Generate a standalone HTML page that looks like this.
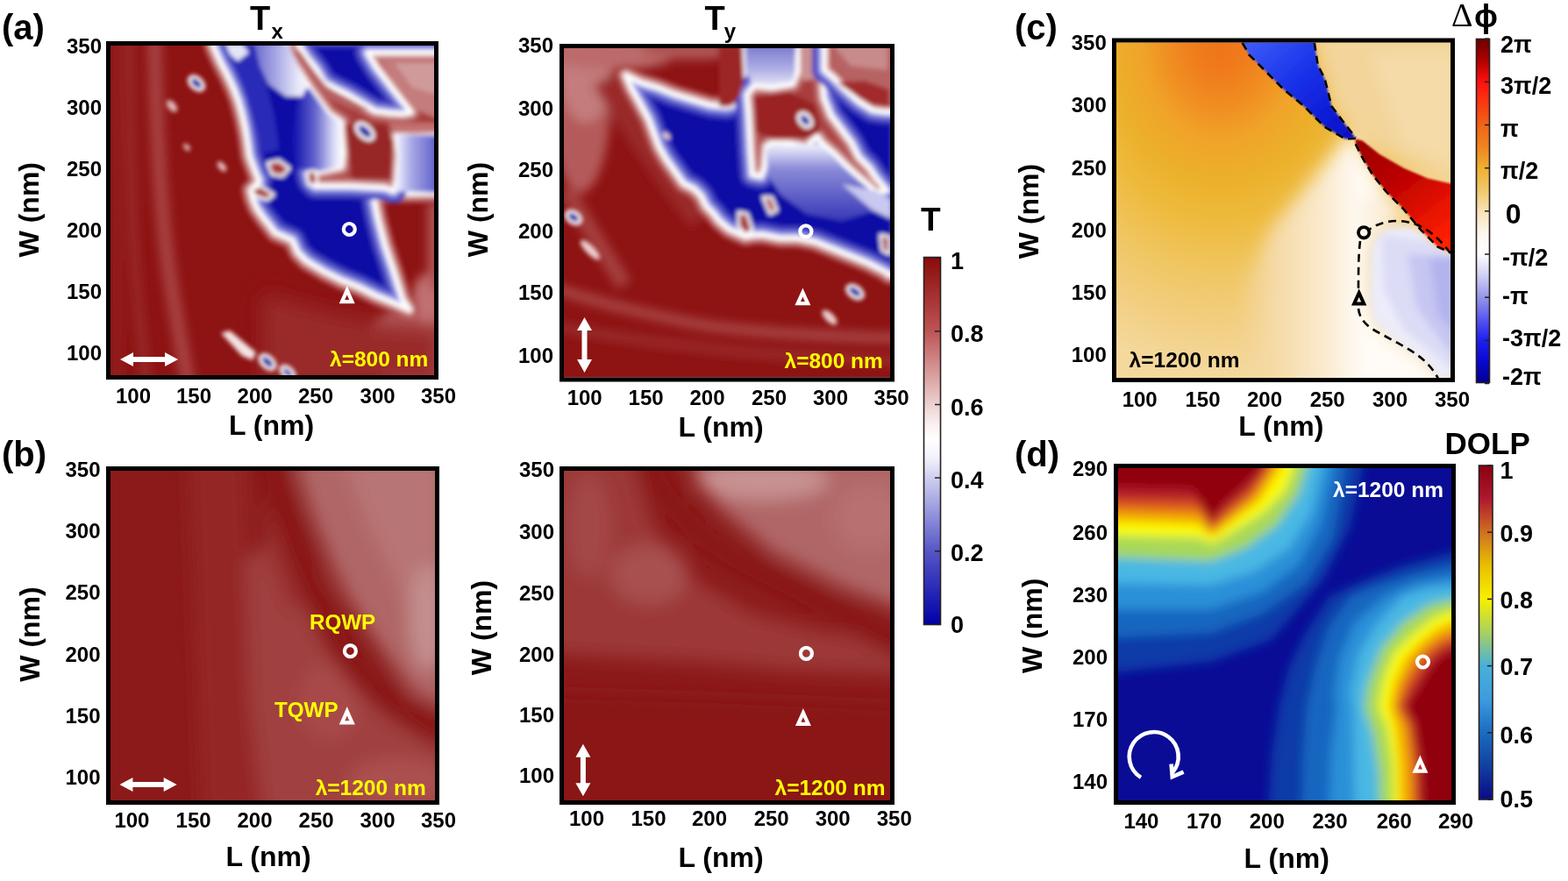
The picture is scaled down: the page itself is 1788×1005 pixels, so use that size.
<!DOCTYPE html>
<html><head><meta charset="utf-8"><title>Figure</title>
<style>html,body{margin:0;padding:0;background:#fff;overflow:hidden}svg{display:block}</style>
</head><body>
<svg width="1788" height="1005" viewBox="0 0 1788 1005" font-family='"Liberation Sans", sans-serif'>
<defs><clipPath id="clip_tx"><rect x="126" y="52" width="369" height="376"/></clipPath><clipPath id="clip_ty"><rect x="643" y="55" width="372" height="375.5"/></clipPath><clipPath id="clip_bl"><rect x="126" y="537" width="370" height="376"/></clipPath><clipPath id="clip_br"><rect x="643" y="537" width="372" height="376"/></clipPath><clipPath id="clip_c"><rect x="1273" y="48.5" width="381" height="382.5"/></clipPath><clipPath id="clip_d"><rect x="1275" y="534" width="380" height="379"/></clipPath><filter id="b1" x="-5%" y="-5%" width="110%" height="110%"><feGaussianBlur stdDeviation="1.3"/></filter><filter id="b2" x="-5%" y="-5%" width="110%" height="110%"><feGaussianBlur stdDeviation="2.4"/></filter><filter id="b4" x="-10%" y="-10%" width="120%" height="120%"><feGaussianBlur stdDeviation="4"/></filter><filter id="b6" x="-10%" y="-10%" width="120%" height="120%"><feGaussianBlur stdDeviation="6"/></filter><filter id="b14" x="-30%" y="-30%" width="160%" height="160%"><feGaussianBlur stdDeviation="14"/></filter><filter id="b10" x="-20%" y="-20%" width="140%" height="140%"><feGaussianBlur stdDeviation="10"/></filter><linearGradient id="gT" x1="0" y1="0" x2="0" y2="1">
<stop offset="0" stop-color="#8a0a0a"/><stop offset="0.2" stop-color="#bd5454"/>
<stop offset="0.4" stop-color="#ecd0d0"/><stop offset="0.46" stop-color="#fbf3f3"/><stop offset="0.5" stop-color="#ffffff"/>
<stop offset="0.55" stop-color="#f0f0fb"/><stop offset="0.6" stop-color="#cfcff0"/><stop offset="0.8" stop-color="#5656c6"/>
<stop offset="1" stop-color="#0000a8"/></linearGradient><linearGradient id="gC" x1="0" y1="0" x2="0" y2="1">
<stop offset="0" stop-color="#6a0000"/><stop offset="0.0625" stop-color="#b00000"/>
<stop offset="0.125" stop-color="#ff1010"/><stop offset="0.1875" stop-color="#f83a10"/>
<stop offset="0.25" stop-color="#f06418"/><stop offset="0.3125" stop-color="#f08420"/>
<stop offset="0.375" stop-color="#efb030"/><stop offset="0.4375" stop-color="#f0c868"/>
<stop offset="0.5" stop-color="#f8e2b4"/><stop offset="0.5625" stop-color="#fdf6ec"/>
<stop offset="0.625" stop-color="#ffffff"/><stop offset="0.6875" stop-color="#d0d0f4"/>
<stop offset="0.75" stop-color="#9898e8"/><stop offset="0.8125" stop-color="#5a5af0"/>
<stop offset="0.875" stop-color="#2020f0"/><stop offset="0.9375" stop-color="#0808d0"/>
<stop offset="1" stop-color="#000090"/></linearGradient><linearGradient id="gD" x1="0" y1="0" x2="0" y2="1">
<stop offset="0" stop-color="#8a0010"/><stop offset="0.1" stop-color="#b01830"/>
<stop offset="0.2" stop-color="#d07020"/><stop offset="0.3" stop-color="#e8c000"/>
<stop offset="0.4" stop-color="#f8f000"/><stop offset="0.5" stop-color="#a8d060"/>
<stop offset="0.6" stop-color="#48b0d8"/><stop offset="0.7" stop-color="#3c9ce0"/>
<stop offset="0.8" stop-color="#1a6cc0"/><stop offset="0.9" stop-color="#1040a0"/>
<stop offset="1" stop-color="#0a0a88"/></linearGradient><radialGradient id="gCbg" gradientUnits="userSpaceOnUse" cx="0" cy="0" r="1" gradientTransform="translate(1392 48) scale(300 375)">
<stop offset="0" stop-color="#ef7418"/><stop offset="0.1" stop-color="#f07c1c"/><stop offset="0.2" stop-color="#f08e22"/>
<stop offset="0.3" stop-color="#f0a428"/><stop offset="0.42" stop-color="#ecb02a"/><stop offset="0.55" stop-color="#eebb3e"/>
<stop offset="0.7" stop-color="#f0c662"/><stop offset="0.85" stop-color="#f2ce80"/><stop offset="1" stop-color="#f4d89c"/></radialGradient><linearGradient id="gCblue" gradientUnits="userSpaceOnUse" x1="1430" y1="45" x2="1530" y2="160">
<stop offset="0" stop-color="#3a5af8"/><stop offset="0.45" stop-color="#1830e8"/><stop offset="1" stop-color="#0810c8"/></linearGradient>
<linearGradient id="gCred" gradientUnits="userSpaceOnUse" x1="1555" y1="165" x2="1640" y2="280">
<stop offset="0" stop-color="#a00000"/><stop offset="0.35" stop-color="#b80000"/><stop offset="0.7" stop-color="#e01000"/><stop offset="1" stop-color="#ff2000"/></linearGradient><linearGradient id="gTxw" gradientUnits="userSpaceOnUse" x1="336" y1="0" x2="391" y2="0"><stop offset="0" stop-color="#1414b0"/><stop offset="0.45" stop-color="#6a6ad0"/><stop offset="0.8" stop-color="#d8d8f6"/><stop offset="1" stop-color="#ffffff"/></linearGradient><linearGradient id="gTxp" gradientUnits="userSpaceOnUse" x1="290" y1="0" x2="342" y2="0"><stop offset="0" stop-color="#6a6ad0"/><stop offset="0.45" stop-color="#a4a4e4"/><stop offset="1" stop-color="#ececfa"/></linearGradient><linearGradient id="gTxr" gradientUnits="userSpaceOnUse" x1="452" y1="0" x2="500" y2="0"><stop offset="0" stop-color="#f0f0ff"/><stop offset="0.35" stop-color="#a8a8e6"/><stop offset="1" stop-color="#5a5ac8"/></linearGradient><clipPath id="rc1"><path d="M243.0,40.0 L243.0,52.0 L251.0,70.0 L259.8,86.8 L266.0,100.0 L271.7,114.7 L276.0,130.0 L279.7,146.5 L282.0,160.0 L284.5,178.0 L288.9,189.9 L292.8,199.9 L295.8,205.8 L290.0,213.0 L286.0,217.0 L288.0,226.0 L292.8,237.7 L299.8,247.6 L307.8,257.6 L313.7,265.5 L322.0,269.0 L333.4,274.0 L339.4,287.7 L349.4,297.7 L369.3,309.6 L389.2,319.6 L409.0,327.5 L429.0,337.5 L448.9,345.4 L466.8,353.4 L458.8,341.4 L448.9,309.6 L438.9,279.8 L431.0,249.9 L427.0,230.0 L433.0,221.0 L510.0,220.0 L510.0,40.0 Z"/></clipPath><clipPath id="rc2"><path d="M326.0,40.0 L341.0,40.0 L341.0,52.0 L350.0,66.0 L360.5,78.8 L370.0,94.8 L382.0,101.0 L395.5,107.5 L411.5,117.0 L427.4,126.6 L445.0,129.0 L460.0,129.8 L468.8,128.0 L448.9,102.7 L429.0,76.9 L419.0,60.0 L510.0,60.0 L510.0,154.0 L470.0,156.0 L452.0,155.0 L455.0,176.4 L452.8,206.2 L449.0,218.0 L438.9,214.2 L399.1,212.2 L359.3,212.2 L353.3,206.2 L351.3,198.2 L371.2,194.3 L389.2,190.3 L391.1,174.4 L389.2,150.5 L389.0,139.4 L374.8,129.8 L363.0,114.0 L352.5,99.5 L340.0,80.0 L328.7,63.0 L327.0,52.0 Z"/></clipPath><linearGradient id="gTyp" gradientUnits="userSpaceOnUse" x1="0" y1="168" x2="0" y2="250"><stop offset="0" stop-color="#e8e8fa"/><stop offset="0.3" stop-color="#8a8ad8"/><stop offset="1" stop-color="#3a3ab8"/></linearGradient><linearGradient id="gTyt" gradientUnits="userSpaceOnUse" x1="0" y1="52" x2="0" y2="98"><stop offset="0" stop-color="#7a7acc"/><stop offset="0.6" stop-color="#b0b0e6"/><stop offset="1" stop-color="#e6e6f8"/></linearGradient><clipPath id="rc3"><path d="M713.6,85.8 L729.6,93.8 L749.5,99.8 L769.4,107.7 L789.3,113.7 L809.2,119.7 L829.0,121.7 L836.0,119.7 L844.0,108.0 L848.0,92.0 L846.0,40.0 L1030.0,40.0 L1030.0,314.0 L1014.0,313.6 L1009.0,309.6 L989.2,299.7 L969.3,291.7 L949.4,283.7 L929.5,275.8 L909.6,271.8 L889.7,271.8 L869.8,267.8 L860.0,268.0 L849.9,269.8 L831.9,261.8 L820.0,251.9 L813.1,243.0 L805.2,235.1 L799.2,223.1 L791.2,215.2 L779.3,209.2 L769.4,195.3 L759.4,181.4 L751.4,167.4 L745.5,151.5 L739.5,135.6 L729.6,117.7 L719.6,99.8 Z"/></clipPath><clipPath id="rc4"><path d="M909.6,40.0 L937.4,40.0 L937.4,81.9 L939.4,111.7 L947.4,131.6 L959.3,147.5 L971.2,163.4 L979.2,179.4 L991.1,191.3 L999.1,203.2 L1011.0,217.2 L999.1,219.2 L985.2,207.2 L967.3,191.3 L951.3,175.4 L937.4,163.4 L931.4,155.5 L919.5,167.4 L899.6,163.4 L879.7,163.4 L873.7,167.4 L871.7,191.3 L867.8,201.3 L857.8,199.3 L855.8,171.4 L853.8,131.6 L851.8,107.7 L859.8,97.8 L879.7,99.8 L903.6,95.8 L909.6,81.9 Z"/></clipPath><clipPath id="rc5"><path d="M940.0,40.0 L1030.0,40.0 L1030.0,128.0 L1009.0,127.6 L995.1,125.6 L979.2,115.7 L963.3,101.8 L949.4,87.8 L940.0,80.0 Z"/></clipPath><linearGradient id="gCw" gradientUnits="userSpaceOnUse" x1="1405" y1="0" x2="1552" y2="0"><stop offset="0" stop-color="#f3d494" stop-opacity="0"/><stop offset="0.3" stop-color="#f5d9a4"/><stop offset="0.65" stop-color="#f9e7c6"/><stop offset="0.88" stop-color="#fdf4e6"/><stop offset="1" stop-color="#fffbf6"/></linearGradient></defs>
<rect width="1788" height="1005" fill="#fff"/>
<g clip-path="url(#clip_tx)"><rect x="106" y="32" width="409" height="416" fill="#8e1313"/><g filter="url(#b6)"><path d="M176,30 C178,150 184,260 196,330 C203,375 210,410 216,445" fill="none" stroke="#a84242" stroke-width="16"/><path d="M147,30 C148,150 150,260 156,330 C160,380 164,410 168,445" fill="none" stroke="#9a2c2c" stroke-width="10"/><path d="M133,30 L134,445" fill="none" stroke="#962626" stroke-width="6"/><ellipse cx="478" cy="395" rx="62" ry="48" fill="#b66262"/><path d="M300,335 C380,360 440,372 505,370 L505,440 L300,440 Z" fill="#9a2c2c" filter="url(#b10)"/><ellipse cx="488" cy="340" rx="18" ry="28" fill="#c07070"/><path d="M495,230 L495,330" stroke="#b45a5a" stroke-width="14"/></g><g filter="url(#b2)"><path d="M243.0,40.0 L243.0,52.0 L251.0,70.0 L259.8,86.8 L266.0,100.0 L271.7,114.7 L276.0,130.0 L279.7,146.5 L282.0,160.0 L284.5,178.0 L288.9,189.9 L292.8,199.9 L295.8,205.8 L290.0,213.0 L286.0,217.0 L288.0,226.0 L292.8,237.7 L299.8,247.6 L307.8,257.6 L313.7,265.5 L322.0,269.0 L333.4,274.0 L339.4,287.7 L349.4,297.7 L369.3,309.6 L389.2,319.6 L409.0,327.5 L429.0,337.5 L448.9,345.4 L466.8,353.4 L458.8,341.4 L448.9,309.6 L438.9,279.8 L431.0,249.9 L427.0,230.0 L433.0,221.0 L510.0,220.0 L510.0,40.0 Z" fill="none" stroke="#b45858" stroke-width="22" stroke-linejoin="round"/><path d="M243.0,40.0 L243.0,52.0 L251.0,70.0 L259.8,86.8 L266.0,100.0 L271.7,114.7 L276.0,130.0 L279.7,146.5 L282.0,160.0 L284.5,178.0 L288.9,189.9 L292.8,199.9 L295.8,205.8 L290.0,213.0 L286.0,217.0 L288.0,226.0 L292.8,237.7 L299.8,247.6 L307.8,257.6 L313.7,265.5 L322.0,269.0 L333.4,274.0 L339.4,287.7 L349.4,297.7 L369.3,309.6 L389.2,319.6 L409.0,327.5 L429.0,337.5 L448.9,345.4 L466.8,353.4 L458.8,341.4 L448.9,309.6 L438.9,279.8 L431.0,249.9 L427.0,230.0 L433.0,221.0 L510.0,220.0 L510.0,40.0 Z" fill="none" stroke="#d49a9a" stroke-width="13" stroke-linejoin="round"/><path d="M243.0,40.0 L243.0,52.0 L251.0,70.0 L259.8,86.8 L266.0,100.0 L271.7,114.7 L276.0,130.0 L279.7,146.5 L282.0,160.0 L284.5,178.0 L288.9,189.9 L292.8,199.9 L295.8,205.8 L290.0,213.0 L286.0,217.0 L288.0,226.0 L292.8,237.7 L299.8,247.6 L307.8,257.6 L313.7,265.5 L322.0,269.0 L333.4,274.0 L339.4,287.7 L349.4,297.7 L369.3,309.6 L389.2,319.6 L409.0,327.5 L429.0,337.5 L448.9,345.4 L466.8,353.4 L458.8,341.4 L448.9,309.6 L438.9,279.8 L431.0,249.9 L427.0,230.0 L433.0,221.0 L510.0,220.0 L510.0,40.0 Z" fill="#0a0aa6"/><g clip-path="url(#rc1)"><path d="M243.0,40.0 L243.0,52.0 L251.0,70.0 L259.8,86.8 L266.0,100.0 L271.7,114.7 L276.0,130.0 L279.7,146.5 L282.0,160.0 L284.5,178.0 L288.9,189.9 L292.8,199.9 L295.8,205.8 L290.0,213.0 L286.0,217.0 L288.0,226.0 L292.8,237.7 L299.8,247.6 L307.8,257.6 L313.7,265.5 L322.0,269.0 L333.4,274.0 L339.4,287.7 L349.4,297.7 L369.3,309.6 L389.2,319.6 L409.0,327.5 L429.0,337.5 L448.9,345.4 L466.8,353.4 L458.8,341.4 L448.9,309.6 L438.9,279.8 L431.0,249.9 L427.0,230.0 L433.0,221.0 L510.0,220.0 L510.0,40.0 Z" fill="none" stroke="#4040c0" stroke-width="28" stroke-linejoin="round"/><path d="M243.0,40.0 L243.0,52.0 L251.0,70.0 L259.8,86.8 L266.0,100.0 L271.7,114.7 L276.0,130.0 L279.7,146.5 L282.0,160.0 L284.5,178.0 L288.9,189.9 L292.8,199.9 L295.8,205.8 L290.0,213.0 L286.0,217.0 L288.0,226.0 L292.8,237.7 L299.8,247.6 L307.8,257.6 L313.7,265.5 L322.0,269.0 L333.4,274.0 L339.4,287.7 L349.4,297.7 L369.3,309.6 L389.2,319.6 L409.0,327.5 L429.0,337.5 L448.9,345.4 L466.8,353.4 L458.8,341.4 L448.9,309.6 L438.9,279.8 L431.0,249.9 L427.0,230.0 L433.0,221.0 L510.0,220.0 L510.0,40.0 Z" fill="none" stroke="#7c7cd8" stroke-width="18" stroke-linejoin="round"/><path d="M243.0,40.0 L243.0,52.0 L251.0,70.0 L259.8,86.8 L266.0,100.0 L271.7,114.7 L276.0,130.0 L279.7,146.5 L282.0,160.0 L284.5,178.0 L288.9,189.9 L292.8,199.9 L295.8,205.8 L290.0,213.0 L286.0,217.0 L288.0,226.0 L292.8,237.7 L299.8,247.6 L307.8,257.6 L313.7,265.5 L322.0,269.0 L333.4,274.0 L339.4,287.7 L349.4,297.7 L369.3,309.6 L389.2,319.6 L409.0,327.5 L429.0,337.5 L448.9,345.4 L466.8,353.4 L458.8,341.4 L448.9,309.6 L438.9,279.8 L431.0,249.9 L427.0,230.0 L433.0,221.0 L510.0,220.0 L510.0,40.0 Z" fill="none" stroke="#b4b4ee" stroke-width="10" stroke-linejoin="round"/></g><path d="M243.0,40.0 L243.0,52.0 L251.0,70.0 L259.8,86.8 L266.0,100.0 L271.7,114.7 L276.0,130.0 L279.7,146.5 L282.0,160.0 L284.5,178.0 L288.9,189.9 L292.8,199.9 L295.8,205.8 L290.0,213.0 L286.0,217.0 L288.0,226.0 L292.8,237.7 L299.8,247.6 L307.8,257.6 L313.7,265.5 L322.0,269.0 L333.4,274.0 L339.4,287.7 L349.4,297.7 L369.3,309.6 L389.2,319.6 L409.0,327.5 L429.0,337.5 L448.9,345.4 L466.8,353.4 L458.8,341.4 L448.9,309.6 L438.9,279.8 L431.0,249.9 L427.0,230.0 L433.0,221.0 L510.0,220.0 L510.0,40.0 Z" fill="none" stroke="#ffffff" stroke-width="5.5" stroke-linejoin="round"/><path d="M258.0,52.0 L290.0,52.0 L302.0,90.0 L312.0,130.0 L318.0,170.0 L300.0,175.0 L290.0,140.0 L278.0,100.0 Z" fill="#2a2ab8" /><path d="M257.0,50.0 L276.0,50.0 L284.0,60.0 L271.0,70.0 L262.0,62.0 Z" fill="#e4e4f8" /><path d="M326.0,40.0 L341.0,40.0 L341.0,52.0 L350.0,66.0 L360.5,78.8 L370.0,94.8 L382.0,101.0 L395.5,107.5 L411.5,117.0 L427.4,126.6 L445.0,129.0 L460.0,129.8 L468.8,128.0 L448.9,102.7 L429.0,76.9 L419.0,60.0 L510.0,60.0 L510.0,154.0 L470.0,156.0 L452.0,155.0 L455.0,176.4 L452.8,206.2 L449.0,218.0 L438.9,214.2 L399.1,212.2 L359.3,212.2 L353.3,206.2 L351.3,198.2 L371.2,194.3 L389.2,190.3 L391.1,174.4 L389.2,150.5 L389.0,139.4 L374.8,129.8 L363.0,114.0 L352.5,99.5 L340.0,80.0 L328.7,63.0 L327.0,52.0 Z" fill="none" stroke="#4040c0" stroke-width="28" stroke-linejoin="round"/><path d="M326.0,40.0 L341.0,40.0 L341.0,52.0 L350.0,66.0 L360.5,78.8 L370.0,94.8 L382.0,101.0 L395.5,107.5 L411.5,117.0 L427.4,126.6 L445.0,129.0 L460.0,129.8 L468.8,128.0 L448.9,102.7 L429.0,76.9 L419.0,60.0 L510.0,60.0 L510.0,154.0 L470.0,156.0 L452.0,155.0 L455.0,176.4 L452.8,206.2 L449.0,218.0 L438.9,214.2 L399.1,212.2 L359.3,212.2 L353.3,206.2 L351.3,198.2 L371.2,194.3 L389.2,190.3 L391.1,174.4 L389.2,150.5 L389.0,139.4 L374.8,129.8 L363.0,114.0 L352.5,99.5 L340.0,80.0 L328.7,63.0 L327.0,52.0 Z" fill="none" stroke="#7c7cd8" stroke-width="18" stroke-linejoin="round"/><path d="M326.0,40.0 L341.0,40.0 L341.0,52.0 L350.0,66.0 L360.5,78.8 L370.0,94.8 L382.0,101.0 L395.5,107.5 L411.5,117.0 L427.4,126.6 L445.0,129.0 L460.0,129.8 L468.8,128.0 L448.9,102.7 L429.0,76.9 L419.0,60.0 L510.0,60.0 L510.0,154.0 L470.0,156.0 L452.0,155.0 L455.0,176.4 L452.8,206.2 L449.0,218.0 L438.9,214.2 L399.1,212.2 L359.3,212.2 L353.3,206.2 L351.3,198.2 L371.2,194.3 L389.2,190.3 L391.1,174.4 L389.2,150.5 L389.0,139.4 L374.8,129.8 L363.0,114.0 L352.5,99.5 L340.0,80.0 L328.7,63.0 L327.0,52.0 Z" fill="none" stroke="#b4b4ee" stroke-width="10" stroke-linejoin="round"/><path d="M326.0,40.0 L341.0,40.0 L341.0,52.0 L350.0,66.0 L360.5,78.8 L370.0,94.8 L382.0,101.0 L395.5,107.5 L411.5,117.0 L427.4,126.6 L445.0,129.0 L460.0,129.8 L468.8,128.0 L448.9,102.7 L429.0,76.9 L419.0,60.0 L510.0,60.0 L510.0,154.0 L470.0,156.0 L452.0,155.0 L455.0,176.4 L452.8,206.2 L449.0,218.0 L438.9,214.2 L399.1,212.2 L359.3,212.2 L353.3,206.2 L351.3,198.2 L371.2,194.3 L389.2,190.3 L391.1,174.4 L389.2,150.5 L389.0,139.4 L374.8,129.8 L363.0,114.0 L352.5,99.5 L340.0,80.0 L328.7,63.0 L327.0,52.0 Z" fill="#a83c3c"/><g clip-path="url(#rc2)"><path d="M326.0,40.0 L341.0,40.0 L341.0,52.0 L350.0,66.0 L360.5,78.8 L370.0,94.8 L382.0,101.0 L395.5,107.5 L411.5,117.0 L427.4,126.6 L445.0,129.0 L460.0,129.8 L468.8,128.0 L448.9,102.7 L429.0,76.9 L419.0,60.0 L510.0,60.0 L510.0,154.0 L470.0,156.0 L452.0,155.0 L455.0,176.4 L452.8,206.2 L449.0,218.0 L438.9,214.2 L399.1,212.2 L359.3,212.2 L353.3,206.2 L351.3,198.2 L371.2,194.3 L389.2,190.3 L391.1,174.4 L389.2,150.5 L389.0,139.4 L374.8,129.8 L363.0,114.0 L352.5,99.5 L340.0,80.0 L328.7,63.0 L327.0,52.0 Z" fill="none" stroke="#b45858" stroke-width="22" stroke-linejoin="round"/><path d="M326.0,40.0 L341.0,40.0 L341.0,52.0 L350.0,66.0 L360.5,78.8 L370.0,94.8 L382.0,101.0 L395.5,107.5 L411.5,117.0 L427.4,126.6 L445.0,129.0 L460.0,129.8 L468.8,128.0 L448.9,102.7 L429.0,76.9 L419.0,60.0 L510.0,60.0 L510.0,154.0 L470.0,156.0 L452.0,155.0 L455.0,176.4 L452.8,206.2 L449.0,218.0 L438.9,214.2 L399.1,212.2 L359.3,212.2 L353.3,206.2 L351.3,198.2 L371.2,194.3 L389.2,190.3 L391.1,174.4 L389.2,150.5 L389.0,139.4 L374.8,129.8 L363.0,114.0 L352.5,99.5 L340.0,80.0 L328.7,63.0 L327.0,52.0 Z" fill="none" stroke="#d49a9a" stroke-width="13" stroke-linejoin="round"/></g><path d="M326.0,40.0 L341.0,40.0 L341.0,52.0 L350.0,66.0 L360.5,78.8 L370.0,94.8 L382.0,101.0 L395.5,107.5 L411.5,117.0 L427.4,126.6 L445.0,129.0 L460.0,129.8 L468.8,128.0 L448.9,102.7 L429.0,76.9 L419.0,60.0 L510.0,60.0 L510.0,154.0 L470.0,156.0 L452.0,155.0 L455.0,176.4 L452.8,206.2 L449.0,218.0 L438.9,214.2 L399.1,212.2 L359.3,212.2 L353.3,206.2 L351.3,198.2 L371.2,194.3 L389.2,190.3 L391.1,174.4 L389.2,150.5 L389.0,139.4 L374.8,129.8 L363.0,114.0 L352.5,99.5 L340.0,80.0 L328.7,63.0 L327.0,52.0 Z" fill="none" stroke="#ffffff" stroke-width="5.5" stroke-linejoin="round"/><path d="M340.0,112.0 L352.0,100.0 L364.0,116.0 L374.0,130.0 L389.0,140.0 L389.0,190.0 L372.0,194.0 L352.0,197.0 L338.0,190.0 L332.0,160.0 Z" fill="url(#gTxw)" /><path d="M452.0,154.0 L500.0,154.0 L500.0,220.0 L449.0,218.0 L453.0,206.0 L455.0,176.0 Z" fill="url(#gTxr)" /><path d="M290.0,50.0 L328.0,50.0 L340.0,75.0 L350.0,98.0 L345.0,110.0 L326.0,110.0 L306.0,96.0 L296.0,75.0 Z" fill="url(#gTxp)" /><path d="M434.0,68.0 L505.0,68.0 L505.0,138.0 L472.0,124.0 L454.0,100.0 Z" fill="#c47c7c" /><path d="M450.0,72.0 L505.0,72.0 L505.0,110.0 L470.0,100.0 Z" fill="#d09a9a" /><path d="M394.0,142.0 L440.0,142.0 L448.0,162.0 L446.0,204.0 L402.0,204.0 L398.0,180.0 Z" fill="#982626" /><path d="M335.0,58.0 L342.0,58.0 L356.0,78.0 L372.0,98.0 L395.0,112.0 L420.0,124.0 L400.0,124.0 L378.0,114.0 L358.0,96.0 Z" fill="#b86060" /><path d="M442.0,140.0 L500.0,140.0 L500.0,150.0 L450.0,150.0 Z" fill="#c27070" /><path d="M305.0,186.0 L318.0,183.0 L330.0,192.0 L322.0,201.0 L310.0,199.0 Z" fill="#a83a3a" stroke="#ffffff" stroke-width="3" stroke-linejoin="round" /><path d="M350.0,196.0 L360.0,195.0 L362.0,210.0 L352.0,211.0 Z" fill="#a83a3a" stroke="#ffffff" stroke-width="3" stroke-linejoin="round" /><path d="M286.0,217.0 L297.0,212.0 L312.0,222.0 L305.0,228.0 L292.0,224.0 Z" fill="#a83a3a" stroke="#ffffff" stroke-width="3" stroke-linejoin="round" /><ellipse cx="224" cy="95" rx="9.5" ry="6" transform="rotate(42 224 95)" fill="#0a0aa6" stroke="#fff" stroke-width="3.8"/><ellipse cx="416" cy="150" rx="11.5" ry="6.5" transform="rotate(42 416 150)" fill="#0a0aa6" stroke="#fff" stroke-width="3.8"/><ellipse cx="305" cy="413" rx="10" ry="6" transform="rotate(42 305 413)" fill="#0a0aa6" stroke="#fff" stroke-width="3.8"/><ellipse cx="328" cy="425" rx="9" ry="5" transform="rotate(42 328 425)" fill="#0a0aa6" stroke="#fff" stroke-width="3.8"/><ellipse cx="196" cy="121" rx="8" ry="4.5" transform="rotate(50 196 121)" fill="#e0b8b8"/><ellipse cx="253" cy="190" rx="7" ry="4" transform="rotate(50 253 190)" fill="#e0b8b8"/><ellipse cx="213" cy="168" rx="5" ry="3" transform="rotate(50 213 168)" fill="#e0b8b8"/><path d="M252.0,380.0 L262.0,377.0 L292.0,402.0 L288.0,411.0 L276.0,406.0 Z" fill="#f4e4e4" /></g></g><g clip-path="url(#clip_ty)"><rect x="623" y="35" width="412" height="415.5" fill="#8e1313"/><g filter="url(#b6)"><ellipse cx="662" cy="115" rx="34" ry="105" fill="#b45a5a"/><ellipse cx="668" cy="85" rx="30" ry="55" fill="#c47c7c"/><ellipse cx="700" cy="62" rx="70" ry="18" fill="#bc6a6a"/><ellipse cx="790" cy="58" rx="60" ry="10" fill="#b05656"/><path d="M690,90 C720,140 760,200 800,250" stroke="#9a2a2a" stroke-width="30" fill="none"/><path d="M645,215 C665,250 690,290 712,325" stroke="#a64040" stroke-width="18" fill="none"/><path d="M630,328 C690,348 750,362 810,372 C870,380 950,384 1030,386" stroke="#aa4a4a" stroke-width="11" fill="none"/><path d="M630,372 C700,385 800,398 880,404 C950,408 1000,410 1030,412" stroke="#9c3030" stroke-width="9" fill="none"/></g><g filter="url(#b2)"><path d="M713.6,85.8 L729.6,93.8 L749.5,99.8 L769.4,107.7 L789.3,113.7 L809.2,119.7 L829.0,121.7 L836.0,119.7 L844.0,108.0 L848.0,92.0 L846.0,40.0 L1030.0,40.0 L1030.0,314.0 L1014.0,313.6 L1009.0,309.6 L989.2,299.7 L969.3,291.7 L949.4,283.7 L929.5,275.8 L909.6,271.8 L889.7,271.8 L869.8,267.8 L860.0,268.0 L849.9,269.8 L831.9,261.8 L820.0,251.9 L813.1,243.0 L805.2,235.1 L799.2,223.1 L791.2,215.2 L779.3,209.2 L769.4,195.3 L759.4,181.4 L751.4,167.4 L745.5,151.5 L739.5,135.6 L729.6,117.7 L719.6,99.8 Z" fill="none" stroke="#b45858" stroke-width="22" stroke-linejoin="round"/><path d="M713.6,85.8 L729.6,93.8 L749.5,99.8 L769.4,107.7 L789.3,113.7 L809.2,119.7 L829.0,121.7 L836.0,119.7 L844.0,108.0 L848.0,92.0 L846.0,40.0 L1030.0,40.0 L1030.0,314.0 L1014.0,313.6 L1009.0,309.6 L989.2,299.7 L969.3,291.7 L949.4,283.7 L929.5,275.8 L909.6,271.8 L889.7,271.8 L869.8,267.8 L860.0,268.0 L849.9,269.8 L831.9,261.8 L820.0,251.9 L813.1,243.0 L805.2,235.1 L799.2,223.1 L791.2,215.2 L779.3,209.2 L769.4,195.3 L759.4,181.4 L751.4,167.4 L745.5,151.5 L739.5,135.6 L729.6,117.7 L719.6,99.8 Z" fill="none" stroke="#d49a9a" stroke-width="13" stroke-linejoin="round"/><path d="M713.6,85.8 L729.6,93.8 L749.5,99.8 L769.4,107.7 L789.3,113.7 L809.2,119.7 L829.0,121.7 L836.0,119.7 L844.0,108.0 L848.0,92.0 L846.0,40.0 L1030.0,40.0 L1030.0,314.0 L1014.0,313.6 L1009.0,309.6 L989.2,299.7 L969.3,291.7 L949.4,283.7 L929.5,275.8 L909.6,271.8 L889.7,271.8 L869.8,267.8 L860.0,268.0 L849.9,269.8 L831.9,261.8 L820.0,251.9 L813.1,243.0 L805.2,235.1 L799.2,223.1 L791.2,215.2 L779.3,209.2 L769.4,195.3 L759.4,181.4 L751.4,167.4 L745.5,151.5 L739.5,135.6 L729.6,117.7 L719.6,99.8 Z" fill="#0a0aa6"/><g clip-path="url(#rc3)"><path d="M713.6,85.8 L729.6,93.8 L749.5,99.8 L769.4,107.7 L789.3,113.7 L809.2,119.7 L829.0,121.7 L836.0,119.7 L844.0,108.0 L848.0,92.0 L846.0,40.0 L1030.0,40.0 L1030.0,314.0 L1014.0,313.6 L1009.0,309.6 L989.2,299.7 L969.3,291.7 L949.4,283.7 L929.5,275.8 L909.6,271.8 L889.7,271.8 L869.8,267.8 L860.0,268.0 L849.9,269.8 L831.9,261.8 L820.0,251.9 L813.1,243.0 L805.2,235.1 L799.2,223.1 L791.2,215.2 L779.3,209.2 L769.4,195.3 L759.4,181.4 L751.4,167.4 L745.5,151.5 L739.5,135.6 L729.6,117.7 L719.6,99.8 Z" fill="none" stroke="#4040c0" stroke-width="28" stroke-linejoin="round"/><path d="M713.6,85.8 L729.6,93.8 L749.5,99.8 L769.4,107.7 L789.3,113.7 L809.2,119.7 L829.0,121.7 L836.0,119.7 L844.0,108.0 L848.0,92.0 L846.0,40.0 L1030.0,40.0 L1030.0,314.0 L1014.0,313.6 L1009.0,309.6 L989.2,299.7 L969.3,291.7 L949.4,283.7 L929.5,275.8 L909.6,271.8 L889.7,271.8 L869.8,267.8 L860.0,268.0 L849.9,269.8 L831.9,261.8 L820.0,251.9 L813.1,243.0 L805.2,235.1 L799.2,223.1 L791.2,215.2 L779.3,209.2 L769.4,195.3 L759.4,181.4 L751.4,167.4 L745.5,151.5 L739.5,135.6 L729.6,117.7 L719.6,99.8 Z" fill="none" stroke="#7c7cd8" stroke-width="18" stroke-linejoin="round"/><path d="M713.6,85.8 L729.6,93.8 L749.5,99.8 L769.4,107.7 L789.3,113.7 L809.2,119.7 L829.0,121.7 L836.0,119.7 L844.0,108.0 L848.0,92.0 L846.0,40.0 L1030.0,40.0 L1030.0,314.0 L1014.0,313.6 L1009.0,309.6 L989.2,299.7 L969.3,291.7 L949.4,283.7 L929.5,275.8 L909.6,271.8 L889.7,271.8 L869.8,267.8 L860.0,268.0 L849.9,269.8 L831.9,261.8 L820.0,251.9 L813.1,243.0 L805.2,235.1 L799.2,223.1 L791.2,215.2 L779.3,209.2 L769.4,195.3 L759.4,181.4 L751.4,167.4 L745.5,151.5 L739.5,135.6 L729.6,117.7 L719.6,99.8 Z" fill="none" stroke="#b4b4ee" stroke-width="10" stroke-linejoin="round"/></g><path d="M713.6,85.8 L729.6,93.8 L749.5,99.8 L769.4,107.7 L789.3,113.7 L809.2,119.7 L829.0,121.7 L836.0,119.7 L844.0,108.0 L848.0,92.0 L846.0,40.0 L1030.0,40.0 L1030.0,314.0 L1014.0,313.6 L1009.0,309.6 L989.2,299.7 L969.3,291.7 L949.4,283.7 L929.5,275.8 L909.6,271.8 L889.7,271.8 L869.8,267.8 L860.0,268.0 L849.9,269.8 L831.9,261.8 L820.0,251.9 L813.1,243.0 L805.2,235.1 L799.2,223.1 L791.2,215.2 L779.3,209.2 L769.4,195.3 L759.4,181.4 L751.4,167.4 L745.5,151.5 L739.5,135.6 L729.6,117.7 L719.6,99.8 Z" fill="none" stroke="#ffffff" stroke-width="5.5" stroke-linejoin="round"/><path d="M909.6,40.0 L937.4,40.0 L937.4,81.9 L939.4,111.7 L947.4,131.6 L959.3,147.5 L971.2,163.4 L979.2,179.4 L991.1,191.3 L999.1,203.2 L1011.0,217.2 L999.1,219.2 L985.2,207.2 L967.3,191.3 L951.3,175.4 L937.4,163.4 L931.4,155.5 L919.5,167.4 L899.6,163.4 L879.7,163.4 L873.7,167.4 L871.7,191.3 L867.8,201.3 L857.8,199.3 L855.8,171.4 L853.8,131.6 L851.8,107.7 L859.8,97.8 L879.7,99.8 L903.6,95.8 L909.6,81.9 Z" fill="none" stroke="#4040c0" stroke-width="28" stroke-linejoin="round"/><path d="M909.6,40.0 L937.4,40.0 L937.4,81.9 L939.4,111.7 L947.4,131.6 L959.3,147.5 L971.2,163.4 L979.2,179.4 L991.1,191.3 L999.1,203.2 L1011.0,217.2 L999.1,219.2 L985.2,207.2 L967.3,191.3 L951.3,175.4 L937.4,163.4 L931.4,155.5 L919.5,167.4 L899.6,163.4 L879.7,163.4 L873.7,167.4 L871.7,191.3 L867.8,201.3 L857.8,199.3 L855.8,171.4 L853.8,131.6 L851.8,107.7 L859.8,97.8 L879.7,99.8 L903.6,95.8 L909.6,81.9 Z" fill="none" stroke="#7c7cd8" stroke-width="18" stroke-linejoin="round"/><path d="M909.6,40.0 L937.4,40.0 L937.4,81.9 L939.4,111.7 L947.4,131.6 L959.3,147.5 L971.2,163.4 L979.2,179.4 L991.1,191.3 L999.1,203.2 L1011.0,217.2 L999.1,219.2 L985.2,207.2 L967.3,191.3 L951.3,175.4 L937.4,163.4 L931.4,155.5 L919.5,167.4 L899.6,163.4 L879.7,163.4 L873.7,167.4 L871.7,191.3 L867.8,201.3 L857.8,199.3 L855.8,171.4 L853.8,131.6 L851.8,107.7 L859.8,97.8 L879.7,99.8 L903.6,95.8 L909.6,81.9 Z" fill="none" stroke="#b4b4ee" stroke-width="10" stroke-linejoin="round"/><path d="M909.6,40.0 L937.4,40.0 L937.4,81.9 L939.4,111.7 L947.4,131.6 L959.3,147.5 L971.2,163.4 L979.2,179.4 L991.1,191.3 L999.1,203.2 L1011.0,217.2 L999.1,219.2 L985.2,207.2 L967.3,191.3 L951.3,175.4 L937.4,163.4 L931.4,155.5 L919.5,167.4 L899.6,163.4 L879.7,163.4 L873.7,167.4 L871.7,191.3 L867.8,201.3 L857.8,199.3 L855.8,171.4 L853.8,131.6 L851.8,107.7 L859.8,97.8 L879.7,99.8 L903.6,95.8 L909.6,81.9 Z" fill="#a83c3c"/><g clip-path="url(#rc4)"><path d="M909.6,40.0 L937.4,40.0 L937.4,81.9 L939.4,111.7 L947.4,131.6 L959.3,147.5 L971.2,163.4 L979.2,179.4 L991.1,191.3 L999.1,203.2 L1011.0,217.2 L999.1,219.2 L985.2,207.2 L967.3,191.3 L951.3,175.4 L937.4,163.4 L931.4,155.5 L919.5,167.4 L899.6,163.4 L879.7,163.4 L873.7,167.4 L871.7,191.3 L867.8,201.3 L857.8,199.3 L855.8,171.4 L853.8,131.6 L851.8,107.7 L859.8,97.8 L879.7,99.8 L903.6,95.8 L909.6,81.9 Z" fill="none" stroke="#b45858" stroke-width="22" stroke-linejoin="round"/><path d="M909.6,40.0 L937.4,40.0 L937.4,81.9 L939.4,111.7 L947.4,131.6 L959.3,147.5 L971.2,163.4 L979.2,179.4 L991.1,191.3 L999.1,203.2 L1011.0,217.2 L999.1,219.2 L985.2,207.2 L967.3,191.3 L951.3,175.4 L937.4,163.4 L931.4,155.5 L919.5,167.4 L899.6,163.4 L879.7,163.4 L873.7,167.4 L871.7,191.3 L867.8,201.3 L857.8,199.3 L855.8,171.4 L853.8,131.6 L851.8,107.7 L859.8,97.8 L879.7,99.8 L903.6,95.8 L909.6,81.9 Z" fill="none" stroke="#d49a9a" stroke-width="13" stroke-linejoin="round"/></g><path d="M909.6,40.0 L937.4,40.0 L937.4,81.9 L939.4,111.7 L947.4,131.6 L959.3,147.5 L971.2,163.4 L979.2,179.4 L991.1,191.3 L999.1,203.2 L1011.0,217.2 L999.1,219.2 L985.2,207.2 L967.3,191.3 L951.3,175.4 L937.4,163.4 L931.4,155.5 L919.5,167.4 L899.6,163.4 L879.7,163.4 L873.7,167.4 L871.7,191.3 L867.8,201.3 L857.8,199.3 L855.8,171.4 L853.8,131.6 L851.8,107.7 L859.8,97.8 L879.7,99.8 L903.6,95.8 L909.6,81.9 Z" fill="none" stroke="#ffffff" stroke-width="5.5" stroke-linejoin="round"/><path d="M860.0,110.0 L900.0,105.0 L930.0,120.0 L935.0,150.0 L920.0,158.0 L880.0,158.0 L862.0,150.0 Z" fill="#9a2020" /><path d="M912.0,48.0 L935.0,48.0 L935.0,90.0 L915.0,92.0 Z" fill="#cc9090" /><ellipse cx="918" cy="137" rx="9" ry="6" transform="rotate(50 918 137)" fill="#0a0aa6" stroke="#fff" stroke-width="3.8"/><path d="M820.0,40.0 L846.0,40.0 L848.0,92.0 L844.0,108.0 L836.0,119.7 L829.0,121.7 L820.0,121.0 Z" fill="#9c2525" /><path d="M940.0,40.0 L1030.0,40.0 L1030.0,128.0 L1009.0,127.6 L995.1,125.6 L979.2,115.7 L963.3,101.8 L949.4,87.8 L940.0,80.0 Z" fill="none" stroke="#4040c0" stroke-width="28" stroke-linejoin="round"/><path d="M940.0,40.0 L1030.0,40.0 L1030.0,128.0 L1009.0,127.6 L995.1,125.6 L979.2,115.7 L963.3,101.8 L949.4,87.8 L940.0,80.0 Z" fill="none" stroke="#7c7cd8" stroke-width="18" stroke-linejoin="round"/><path d="M940.0,40.0 L1030.0,40.0 L1030.0,128.0 L1009.0,127.6 L995.1,125.6 L979.2,115.7 L963.3,101.8 L949.4,87.8 L940.0,80.0 Z" fill="none" stroke="#b4b4ee" stroke-width="10" stroke-linejoin="round"/><path d="M940.0,40.0 L1030.0,40.0 L1030.0,128.0 L1009.0,127.6 L995.1,125.6 L979.2,115.7 L963.3,101.8 L949.4,87.8 L940.0,80.0 Z" fill="#b86464"/><g clip-path="url(#rc5)"><path d="M940.0,40.0 L1030.0,40.0 L1030.0,128.0 L1009.0,127.6 L995.1,125.6 L979.2,115.7 L963.3,101.8 L949.4,87.8 L940.0,80.0 Z" fill="none" stroke="#b45858" stroke-width="22" stroke-linejoin="round"/><path d="M940.0,40.0 L1030.0,40.0 L1030.0,128.0 L1009.0,127.6 L995.1,125.6 L979.2,115.7 L963.3,101.8 L949.4,87.8 L940.0,80.0 Z" fill="none" stroke="#d49a9a" stroke-width="13" stroke-linejoin="round"/></g><path d="M940.0,40.0 L1030.0,40.0 L1030.0,128.0 L1009.0,127.6 L995.1,125.6 L979.2,115.7 L963.3,101.8 L949.4,87.8 L940.0,80.0 Z" fill="none" stroke="#ffffff" stroke-width="5.5" stroke-linejoin="round"/><path d="M850.0,50.0 L908.0,50.0 L905.0,92.0 L880.0,97.0 L858.0,96.0 L850.0,80.0 Z" fill="url(#gTyt)" /><path d="M873.0,168.0 L935.0,164.0 L960.0,190.0 L990.0,215.0 L998.0,240.0 L960.0,252.0 L920.0,244.0 L890.0,222.0 L876.0,200.0 Z" fill="url(#gTyp)" /><path d="M960.0,210.0 L1000.0,218.0 L1016.0,228.0 L1016.0,250.0 L995.0,240.0 Z" fill="#c8c8f0" /><path d="M955.0,94.0 L975.0,108.0 L995.0,120.0 L1014.0,122.0 L1014.0,102.0 L985.0,92.0 Z" fill="#a22c2c" /><path d="M950.0,52.0 L1012.0,52.0 L1012.0,80.0 L970.0,75.0 Z" fill="#c88a8a" /><path d="M842.0,242.0 L852.0,244.0 L858.0,262.0 L850.0,268.0 L842.0,258.0 Z" fill="#a83a3a" stroke="#ffffff" stroke-width="3" stroke-linejoin="round" /><path d="M870.0,225.0 L880.0,225.0 L886.0,240.0 L878.0,244.0 Z" fill="#b04848" stroke="#ffffff" stroke-width="3" stroke-linejoin="round" /><path d="M1004.0,268.0 L1014.0,270.0 L1014.0,290.0 L1006.0,286.0 Z" fill="#a83a3a" stroke="#ffffff" stroke-width="3" stroke-linejoin="round" /><ellipse cx="654" cy="248" rx="9" ry="6" transform="rotate(35 654 248)" fill="#0a0aa6" stroke="#fff" stroke-width="3.8"/><ellipse cx="975" cy="333" rx="10" ry="6" transform="rotate(35 975 333)" fill="#0a0aa6" stroke="#fff" stroke-width="3.8"/><ellipse cx="673" cy="285" rx="15" ry="5" transform="rotate(45 673 285)" fill="#eccfcf"/><ellipse cx="946" cy="362" rx="11" ry="5" transform="rotate(45 946 362)" fill="#eccfcf"/><ellipse cx="760" cy="155" rx="5" ry="3" transform="rotate(45 760 155)" fill="#eccfcf"/></g></g><g clip-path="url(#clip_bl)"><rect x="106" y="517" width="410" height="416" fill="#8c1a1a"/><g filter="url(#b10)"><path d="M215.0,520.0 L280.0,520.0 L285.0,650.0 L290.0,800.0 L300.0,930.0 L230.0,930.0 L225.0,800.0 L220.0,650.0 Z" fill="#952626" /><path d="M280.0,640.0 L330.0,600.0 L370.0,650.0 L400.0,730.0 L430.0,790.0 L470.0,830.0 L510.0,860.0 L510.0,930.0 L300.0,930.0 L285.0,800.0 Z" fill="#a04040" /><ellipse cx="375" cy="800" rx="35" ry="45" fill="#a84a4a"/><path d="M300.0,520.0 L330.0,520.0 L345.0,600.0 L360.0,680.0 L330.0,700.0 L305.0,640.0 Z" fill="#9a3030" /><path d="M335.0,520.0 L510.0,520.0 L510.0,810.0 L470.0,790.0 L430.0,735.0 L395.0,680.0 L372.0,630.0 L352.0,580.0 Z" fill="#b06666" /><path d="M390.0,520.0 L510.0,520.0 L510.0,760.0 L480.0,720.0 L450.0,660.0 L420.0,600.0 Z" fill="#b87474" /><ellipse cx="488" cy="705" rx="22" ry="60" fill="#c48e8e"/><ellipse cx="455" cy="892" rx="60" ry="28" fill="#ac5050"/><path d="M308,515 C320,580 345,650 382,725 C405,770 440,805 520,845" fill="none" stroke="#8a1212" stroke-width="32"/></g></g><g clip-path="url(#clip_br)"><rect x="623" y="517" width="412" height="416" fill="#8c1a1a"/><g filter="url(#b10)"><path d="M620.0,520.0 L720.0,520.0 L745.0,600.0 L790.0,660.0 L860.0,700.0 L940.0,720.0 L1040.0,735.0 L1040.0,770.0 L900.0,765.0 L800.0,755.0 L700.0,750.0 L620.0,745.0 Z" fill="#9c3838" /><ellipse cx="740" cy="655" rx="45" ry="35" fill="#a85050"/><ellipse cx="672" cy="600" rx="25" ry="60" fill="#a44646"/><path d="M780.0,520.0 L1040.0,520.0 L1040.0,700.0 L960.0,670.0 L880.0,630.0 L820.0,580.0 Z" fill="#b06666" /><ellipse cx="870" cy="548" rx="75" ry="22" fill="#c89292"/><ellipse cx="990" cy="590" rx="40" ry="40" fill="#b87070"/><path d="M735,515 C760,580 800,620 860,650 C920,680 980,710 1040,740" fill="none" stroke="#8a1212" stroke-width="32"/><path d="M620.0,790.0 L800.0,795.0 L1040.0,805.0 L1040.0,935.0 L620.0,935.0 Z" fill="#8a1818" /></g></g><g clip-path="url(#clip_c)"><rect x="1253" y="28.5" width="421" height="422.5" fill="url(#gCbg)"/><g filter="url(#b10)"><path d="M1490.0,20.0 L1690.0,20.0 L1690.0,215.0 L1553.0,165.0 L1530.0,140.0 L1516.0,121.0 L1508.0,90.0 L1500.0,70.0 Z" fill="#f3d49a" /><path d="M1560.0,60.0 L1690.0,60.0 L1690.0,200.0 L1600.0,170.0 Z" fill="#f5dba8" /></g><g filter="url(#b10)"><path d="M1415.0,330.0 L1450.0,260.0 L1500.0,200.0 L1540.0,150.0 L1560.0,180.0 L1580.0,220.0 L1600.0,245.0 L1585.0,256.0 L1575.0,263.0 L1566.0,274.0 L1563.0,290.0 L1563.0,344.0 L1567.0,364.0 L1582.0,380.0 L1615.0,400.0 L1648.0,432.0 L1648.0,450.0 L1415.0,450.0 Z" fill="url(#gCw)" /><path d="M1552.0,230.0 L1580.0,222.0 L1600.0,245.0 L1570.0,252.0 L1556.0,262.0 Z" fill="#fbeedc" /></g><g filter="url(#b10)"></g><g filter="url(#b4)"><path d="M1654.0,287.0 L1639.0,281.0 L1620.0,264.0 L1608.0,258.0 L1590.0,258.0 L1575.0,263.0 L1566.0,274.0 L1562.0,290.0 L1562.0,317.0 L1562.0,344.0 L1566.0,364.0 L1580.0,380.0 L1600.0,395.0 L1628.0,415.0 L1638.0,431.0 L1670.0,431.0 L1670.0,287.0 Z" fill="#ececfa" /><path d="M1575.0,268.0 L1630.0,275.0 L1660.0,295.0 L1660.0,425.0 L1630.0,400.0 L1600.0,375.0 L1578.0,330.0 Z" fill="#dcdcf6" /><path d="M1605.0,290.0 L1660.0,292.0 L1660.0,410.0 L1640.0,385.0 L1615.0,350.0 Z" fill="#c6c6f2" /><path d="M1630.0,295.0 L1660.0,292.0 L1660.0,380.0 L1640.0,360.0 Z" fill="#b2b4ee" /></g><g filter="url(#b1)"><path d="M1416.7,30.0 L1416.7,48.9 L1424.5,62.6 L1444.0,82.1 L1463.6,101.7 L1487.1,121.2 L1510.6,144.7 L1534.0,158.4 L1545.8,157.5 L1530.1,136.9 L1518.4,121.2 L1510.6,90.0 L1502.7,74.3 L1498.8,48.9 L1498.8,30.0 Z" fill="url(#gCblue)"/><path d="M1545.8,158.4 L1553.6,160.4 L1573.2,176.0 L1600.6,191.7 L1628.0,203.4 L1653.4,209.3 L1670.0,209.0 L1670.0,290.0 L1653.4,287.5 L1639.7,281.7 L1620.1,262.1 L1600.6,238.6 L1581.0,219.0 L1565.3,199.5 L1553.6,180.0 L1545.8,164.3 Z" fill="url(#gCred)"/></g><path d="M1416.7,48.9 L1424.5,62.6 L1444,82.1 L1463.6,101.7 L1487.1,121.2 L1510.6,144.7 L1534,158.4 L1545.8,158" fill="none" stroke="#000" stroke-width="2.6" stroke-dasharray="9,6"/><path d="M1498.8,48.9 L1502.7,74.3 L1510.6,90 L1518.4,121.2 L1530.1,136.9 L1545.8,157" fill="none" stroke="#000" stroke-width="2.6" stroke-dasharray="9,6"/><path d="M1545.8,164.3 L1553.6,180 L1565.3,199.5 L1581,219 L1600.6,238.6 L1620.1,262.1 L1639.7,281.7 L1654,288" fill="none" stroke="#000" stroke-width="2.6" stroke-dasharray="9,6"/><path d="M1654,289 C1640,270 1625,258 1608,254 C1592,250 1575,252 1561,262 M1551,275 C1549,290 1549,310 1549,335 M1549,352 C1550,362 1556,370 1566,376 C1580,384 1598,393 1612,402 C1624,410 1634,420 1640,432" fill="none" stroke="#000" stroke-width="2.6" stroke-dasharray="9,6"/></g><g clip-path="url(#clip_d)"><rect x="1245" y="504" width="440" height="439" fill="#0a0c96"/><g filter="url(#b6)"><path d="M1240.0,767.0 L1275.0,767.0 L1381.0,755.0 L1450.0,730.0 L1510.0,660.0 L1540.0,600.0 L1554.0,534.0 L1554.0,500.0 L1240.0,500.0 Z" fill="#0a3aa8" /><path d="M1690.0,630.0 L1655.0,630.0 L1600.0,645.0 L1555.0,662.0 L1516.0,680.0 L1490.0,720.0 L1470.0,760.0 L1458.0,807.0 L1450.0,860.0 L1447.0,913.0 L1447.0,945.0 L1690.0,945.0 Z" fill="#0a3aa8" /><path d="M1240.0,727.0 L1275.0,727.0 L1381.0,722.0 L1440.0,700.0 L1490.0,665.0 L1520.0,615.0 L1535.0,534.0 L1535.0,500.0 L1240.0,500.0 Z" fill="#1466c0" /><path d="M1690.0,645.0 L1655.0,645.0 L1610.0,655.0 L1570.0,668.0 L1540.0,680.0 L1515.0,715.0 L1500.0,760.0 L1490.0,807.0 L1486.0,860.0 L1485.0,913.0 L1485.0,945.0 L1690.0,945.0 Z" fill="#1466c0" /><path d="M1240.0,695.0 L1275.0,695.0 L1381.0,695.0 L1440.0,675.0 L1480.0,645.0 L1505.0,600.0 L1520.0,534.0 L1520.0,500.0 L1240.0,500.0 Z" fill="#2a90d8" /><path d="M1690.0,658.0 L1655.0,658.0 L1615.0,665.0 L1580.0,680.0 L1545.0,710.0 L1528.0,750.0 L1522.0,790.0 L1524.0,807.0 L1518.0,860.0 L1516.0,913.0 L1516.0,945.0 L1690.0,945.0 Z" fill="#2a90d8" /><path d="M1240.0,665.0 L1275.0,665.0 L1381.0,667.0 L1430.0,652.0 L1470.0,625.0 L1495.0,585.0 L1507.0,534.0 L1507.0,500.0 L1240.0,500.0 Z" fill="#48b8e4" /><path d="M1690.0,668.0 L1655.0,668.0 L1625.0,672.0 L1600.0,680.0 L1570.0,712.0 L1550.0,745.0 L1540.0,790.0 L1543.0,807.0 L1544.0,860.0 L1545.0,913.0 L1545.0,945.0 L1690.0,945.0 Z" fill="#48b8e4" /><path d="M1240.0,636.0 L1275.0,636.0 L1381.0,640.0 L1420.0,625.0 L1455.0,600.0 L1480.0,565.0 L1490.0,534.0 L1490.0,500.0 L1240.0,500.0 Z" fill="#a8d858" /><path d="M1690.0,684.0 L1655.0,684.0 L1630.0,690.0 L1600.0,710.0 L1575.0,740.0 L1560.0,780.0 L1556.0,807.0 L1566.0,840.0 L1572.0,880.0 L1573.0,913.0 L1573.0,945.0 L1690.0,945.0 Z" fill="#a8d858" /><path d="M1240.0,611.0 L1275.0,611.0 L1368.0,613.0 L1381.0,620.0 L1400.0,610.0 L1440.0,585.0 L1465.0,560.0 L1475.0,534.0 L1475.0,500.0 L1240.0,500.0 Z" fill="#fcfc00" /><path d="M1690.0,697.0 L1655.0,697.0 L1635.0,705.0 L1610.0,725.0 L1590.0,745.0 L1578.0,775.0 L1572.0,806.0 L1582.0,830.0 L1588.0,870.0 L1589.0,913.0 L1589.0,945.0 L1690.0,945.0 Z" fill="#fcfc00" /><path d="M1240.0,595.0 L1275.0,595.0 L1368.0,598.0 L1381.0,612.0 L1400.0,598.0 L1435.0,572.0 L1460.0,534.0 L1460.0,500.0 L1240.0,500.0 Z" fill="#f4a800" /><path d="M1690.0,710.0 L1655.0,710.0 L1638.0,718.0 L1620.0,733.0 L1603.0,750.0 L1590.0,780.0 L1585.0,806.0 L1592.0,830.0 L1596.0,870.0 L1597.0,913.0 L1597.0,945.0 L1690.0,945.0 Z" fill="#f4a800" /><path d="M1240.0,582.0 L1275.0,582.0 L1368.0,585.0 L1381.0,606.0 L1400.0,590.0 L1430.0,565.0 L1450.0,534.0 L1450.0,500.0 L1240.0,500.0 Z" fill="#dc5a1c" /><path d="M1690.0,723.0 L1655.0,723.0 L1640.0,730.0 L1625.0,742.0 L1612.0,758.0 L1600.0,780.0 L1592.0,806.0 L1604.0,828.0 L1609.0,870.0 L1610.0,913.0 L1610.0,945.0 L1690.0,945.0 Z" fill="#dc5a1c" /><path d="M1240.0,570.0 L1275.0,570.0 L1365.0,572.0 L1381.0,600.0 L1398.0,582.0 L1425.0,560.0 L1445.0,534.0 L1445.0,500.0 L1240.0,500.0 Z" fill="#b41c2c" /><path d="M1690.0,733.0 L1655.0,733.0 L1642.0,740.0 L1630.0,750.0 L1620.0,765.0 L1608.0,785.0 L1598.0,806.0 L1609.0,826.0 L1615.0,870.0 L1616.0,913.0 L1616.0,945.0 L1690.0,945.0 Z" fill="#b41c2c" /><path d="M1240.0,556.0 L1275.0,556.0 L1360.0,558.0 L1381.0,592.0 L1395.0,575.0 L1420.0,552.0 L1438.0,534.0 L1438.0,500.0 L1240.0,500.0 Z" fill="#900010" /><path d="M1690.0,742.0 L1655.0,742.0 L1644.0,748.0 L1635.0,757.0 L1627.0,770.0 L1615.0,790.0 L1604.0,806.0 L1614.0,824.0 L1621.0,870.0 L1623.0,913.0 L1623.0,945.0 L1690.0,945.0 Z" fill="#900010" /></g></g><rect x="123.5" y="49.5" width="374" height="381" fill="none" stroke="#000" stroke-width="5"/><rect x="640.5" y="52.5" width="377" height="380.5" fill="none" stroke="#000" stroke-width="5"/><rect x="123.5" y="534.5" width="375" height="381" fill="none" stroke="#000" stroke-width="5"/><rect x="640.5" y="534.5" width="377" height="381" fill="none" stroke="#000" stroke-width="5"/><rect x="1270.5" y="46.0" width="386" height="387.5" fill="none" stroke="#000" stroke-width="5"/><rect x="1272.5" y="531.5" width="385" height="384" fill="none" stroke="#000" stroke-width="5"/><text x="152" y="459.9" font-size="24" text-anchor="middle" fill="#000" font-weight="bold" >100</text><text x="221" y="459.9" font-size="24" text-anchor="middle" fill="#000" font-weight="bold" >150</text><text x="290.6" y="459.9" font-size="24" text-anchor="middle" fill="#000" font-weight="bold" >200</text><text x="360" y="459.9" font-size="24" text-anchor="middle" fill="#000" font-weight="bold" >250</text><text x="430.6" y="459.9" font-size="24" text-anchor="middle" fill="#000" font-weight="bold" >300</text><text x="500" y="459.9" font-size="24" text-anchor="middle" fill="#000" font-weight="bold" >350</text><text x="116" y="61.4" font-size="24" text-anchor="end" fill="#000" font-weight="bold" >350</text><text x="116" y="131.0" font-size="24" text-anchor="end" fill="#000" font-weight="bold" >300</text><text x="116" y="201.4" font-size="24" text-anchor="end" fill="#000" font-weight="bold" >250</text><text x="116" y="270.79999999999995" font-size="24" text-anchor="end" fill="#000" font-weight="bold" >200</text><text x="116" y="340.9" font-size="24" text-anchor="end" fill="#000" font-weight="bold" >150</text><text x="116" y="411.09999999999997" font-size="24" text-anchor="end" fill="#000" font-weight="bold" >100</text><text x="309.5" y="495.5" font-size="32" text-anchor="middle" fill="#000" font-weight="bold" >L (nm)</text><text x="0" y="0" font-size="32" font-weight="bold" text-anchor="middle" transform="translate(43.699999999999996,239.2) rotate(-90)">W (nm)</text><text x="666.7" y="462.4" font-size="24" text-anchor="middle" fill="#000" font-weight="bold" >100</text><text x="736.6" y="462.4" font-size="24" text-anchor="middle" fill="#000" font-weight="bold" >150</text><text x="806.5" y="462.4" font-size="24" text-anchor="middle" fill="#000" font-weight="bold" >200</text><text x="877" y="462.4" font-size="24" text-anchor="middle" fill="#000" font-weight="bold" >250</text><text x="947" y="462.4" font-size="24" text-anchor="middle" fill="#000" font-weight="bold" >300</text><text x="1016.6" y="462.4" font-size="24" text-anchor="middle" fill="#000" font-weight="bold" >350</text><text x="631" y="60.4" font-size="24" text-anchor="end" fill="#000" font-weight="bold" >350</text><text x="631" y="131.8" font-size="24" text-anchor="end" fill="#000" font-weight="bold" >300</text><text x="631" y="202.4" font-size="24" text-anchor="end" fill="#000" font-weight="bold" >250</text><text x="631" y="272.09999999999997" font-size="24" text-anchor="end" fill="#000" font-weight="bold" >200</text><text x="631" y="342.4" font-size="24" text-anchor="end" fill="#000" font-weight="bold" >150</text><text x="631" y="413.9" font-size="24" text-anchor="end" fill="#000" font-weight="bold" >100</text><text x="822" y="497.6" font-size="32" text-anchor="middle" fill="#000" font-weight="bold" >L (nm)</text><text x="0" y="0" font-size="32" font-weight="bold" text-anchor="middle" transform="translate(556.1999999999999,239) rotate(-90)">W (nm)</text><text x="150.4" y="943.6" font-size="24" text-anchor="middle" fill="#000" font-weight="bold" >100</text><text x="220.6" y="943.6" font-size="24" text-anchor="middle" fill="#000" font-weight="bold" >150</text><text x="290.5" y="943.6" font-size="24" text-anchor="middle" fill="#000" font-weight="bold" >200</text><text x="360.6" y="943.6" font-size="24" text-anchor="middle" fill="#000" font-weight="bold" >250</text><text x="430.5" y="943.6" font-size="24" text-anchor="middle" fill="#000" font-weight="bold" >300</text><text x="500" y="943.6" font-size="24" text-anchor="middle" fill="#000" font-weight="bold" >350</text><text x="114.5" y="543.9" font-size="24" text-anchor="end" fill="#000" font-weight="bold" >350</text><text x="114.5" y="614.0" font-size="24" text-anchor="end" fill="#000" font-weight="bold" >300</text><text x="114.5" y="684.4" font-size="24" text-anchor="end" fill="#000" font-weight="bold" >250</text><text x="114.5" y="754.6999999999999" font-size="24" text-anchor="end" fill="#000" font-weight="bold" >200</text><text x="114.5" y="825.4" font-size="24" text-anchor="end" fill="#000" font-weight="bold" >150</text><text x="114.5" y="895.4" font-size="24" text-anchor="end" fill="#000" font-weight="bold" >100</text><text x="306" y="988" font-size="32" text-anchor="middle" fill="#000" font-weight="bold" >L (nm)</text><text x="0" y="0" font-size="32" font-weight="bold" text-anchor="middle" transform="translate(44.9,723.5) rotate(-90)">W (nm)</text><text x="669" y="942.4" font-size="24" text-anchor="middle" fill="#000" font-weight="bold" >100</text><text x="739.5" y="942.4" font-size="24" text-anchor="middle" fill="#000" font-weight="bold" >150</text><text x="809" y="942.4" font-size="24" text-anchor="middle" fill="#000" font-weight="bold" >200</text><text x="879.7" y="942.4" font-size="24" text-anchor="middle" fill="#000" font-weight="bold" >250</text><text x="949.7" y="942.4" font-size="24" text-anchor="middle" fill="#000" font-weight="bold" >300</text><text x="1019.8" y="942.4" font-size="24" text-anchor="middle" fill="#000" font-weight="bold" >350</text><text x="632" y="544.1999999999999" font-size="24" text-anchor="end" fill="#000" font-weight="bold" >350</text><text x="632" y="615.0" font-size="24" text-anchor="end" fill="#000" font-weight="bold" >300</text><text x="632" y="685.4" font-size="24" text-anchor="end" fill="#000" font-weight="bold" >250</text><text x="632" y="754.6999999999999" font-size="24" text-anchor="end" fill="#000" font-weight="bold" >200</text><text x="632" y="824.1" font-size="24" text-anchor="end" fill="#000" font-weight="bold" >150</text><text x="632" y="893.4" font-size="24" text-anchor="end" fill="#000" font-weight="bold" >100</text><text x="822" y="989" font-size="32" text-anchor="middle" fill="#000" font-weight="bold" >L (nm)</text><text x="0" y="0" font-size="32" font-weight="bold" text-anchor="middle" transform="translate(560.4,716) rotate(-90)">W (nm)</text><text x="1299.7" y="463.9" font-size="24" text-anchor="middle" fill="#000" font-weight="bold" >100</text><text x="1371.5" y="463.9" font-size="24" text-anchor="middle" fill="#000" font-weight="bold" >150</text><text x="1442" y="463.9" font-size="24" text-anchor="middle" fill="#000" font-weight="bold" >200</text><text x="1513.7" y="463.9" font-size="24" text-anchor="middle" fill="#000" font-weight="bold" >250</text><text x="1585" y="463.9" font-size="24" text-anchor="middle" fill="#000" font-weight="bold" >300</text><text x="1656" y="463.9" font-size="24" text-anchor="middle" fill="#000" font-weight="bold" >350</text><text x="1261.8" y="57.199999999999996" font-size="24" text-anchor="end" fill="#000" font-weight="bold" >350</text><text x="1261.8" y="127.9" font-size="24" text-anchor="end" fill="#000" font-weight="bold" >300</text><text x="1261.8" y="200.20000000000002" font-size="24" text-anchor="end" fill="#000" font-weight="bold" >250</text><text x="1261.8" y="271.29999999999995" font-size="24" text-anchor="end" fill="#000" font-weight="bold" >200</text><text x="1261.8" y="342.29999999999995" font-size="24" text-anchor="end" fill="#000" font-weight="bold" >150</text><text x="1261.8" y="413.4" font-size="24" text-anchor="end" fill="#000" font-weight="bold" >100</text><text x="1460.8" y="497" font-size="32" text-anchor="middle" fill="#000" font-weight="bold" >L (nm)</text><text x="0" y="0" font-size="32" font-weight="bold" text-anchor="middle" transform="translate(1184.2,241) rotate(-90)">W (nm)</text><text x="1301.4" y="945.1" font-size="24" text-anchor="middle" fill="#000" font-weight="bold" >140</text><text x="1373" y="945.1" font-size="24" text-anchor="middle" fill="#000" font-weight="bold" >170</text><text x="1444.8" y="945.1" font-size="24" text-anchor="middle" fill="#000" font-weight="bold" >200</text><text x="1516.5" y="945.1" font-size="24" text-anchor="middle" fill="#000" font-weight="bold" >230</text><text x="1589.8" y="945.1" font-size="24" text-anchor="middle" fill="#000" font-weight="bold" >260</text><text x="1660" y="945.1" font-size="24" text-anchor="middle" fill="#000" font-weight="bold" >290</text><text x="1263" y="543.1" font-size="24" text-anchor="end" fill="#000" font-weight="bold" >290</text><text x="1263" y="616.1999999999999" font-size="24" text-anchor="end" fill="#000" font-weight="bold" >260</text><text x="1263" y="686.9" font-size="24" text-anchor="end" fill="#000" font-weight="bold" >230</text><text x="1263" y="758.4" font-size="24" text-anchor="end" fill="#000" font-weight="bold" >200</text><text x="1263" y="828.8" font-size="24" text-anchor="end" fill="#000" font-weight="bold" >170</text><text x="1263" y="900.4" font-size="24" text-anchor="end" fill="#000" font-weight="bold" >140</text><text x="1467.2" y="990.3" font-size="32" text-anchor="middle" fill="#000" font-weight="bold" >L (nm)</text><text x="0" y="0" font-size="32" font-weight="bold" text-anchor="middle" transform="translate(1188.2,713.9) rotate(-90)">W (nm)</text><text x="2" y="44.5" font-size="40" text-anchor="start" fill="#000" font-weight="bold" >(a)</text><text x="2" y="532" font-size="40" text-anchor="start" fill="#000" font-weight="bold" >(b)</text><text x="1157" y="44.5" font-size="40" text-anchor="start" fill="#000" font-weight="bold" >(c)</text><text x="1157" y="532" font-size="40" text-anchor="start" fill="#000" font-weight="bold" >(d)</text><text x="285" y="34.3" font-size="38" font-weight="bold">T<tspan font-size="24" dx="1.2" dy="9.3">x</tspan></text><text x="803.5" y="34" font-size="38" font-weight="bold">T<tspan font-size="24" dx="-1" dy="9.5">y</tspan></text><text x="1050" y="263" font-size="37" text-anchor="start" fill="#000" font-weight="bold" >T</text><text x="1655" y="30.4" font-size="38" font-weight="normal"><tspan font-family="Liberation Serif, serif">&#916;</tspan><tspan font-weight="bold" font-size="36" dx="1.5" dy="1">&#981;</tspan></text><text x="1647.5" y="518" font-size="35" text-anchor="start" fill="#000" font-weight="bold" >DOLP</text><rect x="1053.5" y="293.5" width="19" height="419" fill="url(#gT)" stroke="#2a2020" stroke-width="1.6"/><rect x="1683.5" y="44.5" width="15" height="392" fill="url(#gC)" stroke="#2a2020" stroke-width="1.6"/><rect x="1686.5" y="531" width="15.5" height="381" fill="url(#gD)" stroke="#2a2020" stroke-width="1.6"/><line x1="1066" x2="1072" y1="294.3" y2="294.3" stroke="#222" stroke-width="1.5"/><line x1="1066" x2="1072" y1="377.9" y2="377.9" stroke="#222" stroke-width="1.5"/><line x1="1066" x2="1072" y1="461.5" y2="461.5" stroke="#222" stroke-width="1.5"/><line x1="1066" x2="1072" y1="545.1" y2="545.1" stroke="#222" stroke-width="1.5"/><line x1="1066" x2="1072" y1="628.7" y2="628.7" stroke="#222" stroke-width="1.5"/><line x1="1066" x2="1072" y1="712.3" y2="712.3" stroke="#222" stroke-width="1.5"/><line x1="1693" x2="1698" y1="44.2" y2="44.2" stroke="#222" stroke-width="1.5"/><line x1="1693" x2="1698" y1="93.4" y2="93.4" stroke="#222" stroke-width="1.5"/><line x1="1693" x2="1698" y1="142.5" y2="142.5" stroke="#222" stroke-width="1.5"/><line x1="1693" x2="1698" y1="191.7" y2="191.7" stroke="#222" stroke-width="1.5"/><line x1="1693" x2="1698" y1="240.8" y2="240.8" stroke="#222" stroke-width="1.5"/><line x1="1693" x2="1698" y1="290.0" y2="290.0" stroke="#222" stroke-width="1.5"/><line x1="1693" x2="1698" y1="339.2" y2="339.2" stroke="#222" stroke-width="1.5"/><line x1="1693" x2="1698" y1="388.3" y2="388.3" stroke="#222" stroke-width="1.5"/><line x1="1693" x2="1698" y1="437.5" y2="437.5" stroke="#222" stroke-width="1.5"/><line x1="1696" x2="1701" y1="531.0" y2="531.0" stroke="#222" stroke-width="1.5"/><line x1="1696" x2="1701" y1="607.2" y2="607.2" stroke="#222" stroke-width="1.5"/><line x1="1696" x2="1701" y1="683.4" y2="683.4" stroke="#222" stroke-width="1.5"/><line x1="1696" x2="1701" y1="759.6" y2="759.6" stroke="#222" stroke-width="1.5"/><line x1="1696" x2="1701" y1="835.8" y2="835.8" stroke="#222" stroke-width="1.5"/><line x1="1696" x2="1701" y1="912.0" y2="912.0" stroke="#222" stroke-width="1.5"/><text x="1084" y="306.7" font-size="27" text-anchor="start" fill="#000" font-weight="bold" >1</text><text x="1084" y="390.2" font-size="27" text-anchor="start" fill="#000" font-weight="bold" >0.8</text><text x="1084" y="473.7" font-size="27" text-anchor="start" fill="#000" font-weight="bold" >0.6</text><text x="1084" y="556.7" font-size="27" text-anchor="start" fill="#000" font-weight="bold" >0.4</text><text x="1084" y="640.2" font-size="27" text-anchor="start" fill="#000" font-weight="bold" >0.2</text><text x="1084" y="721.7" font-size="27" text-anchor="start" fill="#000" font-weight="bold" >0</text><text x="1711" y="60.2" font-size="27" text-anchor="start" fill="#000" font-weight="bold" >2&#960;</text><text x="1711" y="107.2" font-size="27" text-anchor="start" fill="#000" font-weight="bold" >3&#960;/2</text><text x="1711" y="156.2" font-size="27" text-anchor="start" fill="#000" font-weight="bold" >&#960;</text><text x="1711" y="204.2" font-size="27" text-anchor="start" fill="#000" font-weight="bold" >&#960;/2</text><text x="1716.8" y="254.6" font-size="32" text-anchor="start" fill="#000" font-weight="bold" >0</text><text x="1713" y="303.2" font-size="27" text-anchor="start" fill="#000" font-weight="bold" >-&#960;/2</text><text x="1713" y="347.2" font-size="27" text-anchor="start" fill="#000" font-weight="bold" >-&#960;</text><text x="1713" y="395.2" font-size="27" text-anchor="start" fill="#000" font-weight="bold" >-3&#960;/2</text><text x="1713" y="439.2" font-size="27" text-anchor="start" fill="#000" font-weight="bold" >-2&#960;</text><text x="1710.5" y="546.4000000000001" font-size="27" text-anchor="start" fill="#000" font-weight="bold" >1</text><text x="1710.5" y="617.5" font-size="27" text-anchor="start" fill="#000" font-weight="bold" >0.9</text><text x="1710.5" y="694.4000000000001" font-size="27" text-anchor="start" fill="#000" font-weight="bold" >0.8</text><text x="1710.5" y="770.2" font-size="27" text-anchor="start" fill="#000" font-weight="bold" >0.7</text><text x="1710.5" y="848.1" font-size="27" text-anchor="start" fill="#000" font-weight="bold" >0.6</text><text x="1710.5" y="920.7" font-size="27" text-anchor="start" fill="#000" font-weight="bold" >0.5</text><path d="M137,410 L152,402 L152,407 L188,407 L188,402 L203,410 L188,418 L188,413 L152,413 L152,418 Z" fill="#fff"/><circle cx="398.3" cy="261.5" r="6.5" fill="none" stroke="#fff" stroke-width="4.2"/><path d="M395.70,331.18 L401.47,344.20 L389.93,344.20 Z" fill="none" stroke="#fff" stroke-width="4.2" stroke-linejoin="miter" stroke-miterlimit="10"/><text x="376" y="418" font-size="24.5" font-weight="bold" fill="#ffff00">&#955;=800 nm</text><path d="M666.5,362 L675.0,377 L669.5,377 L669.5,410 L675.0,410 L666.5,425 L658.0,410 L663.5,410 L663.5,377 L658.0,377 Z" fill="#fff"/><circle cx="918.9" cy="263.9" r="6.5" fill="none" stroke="#fff" stroke-width="4.2"/><path d="M915.40,333.63 L921.12,346.10 L909.68,346.10 Z" fill="none" stroke="#fff" stroke-width="4.2" stroke-linejoin="miter" stroke-miterlimit="10"/><text x="894.5" y="420" font-size="24.5" font-weight="bold" fill="#ffff00">&#955;=800 nm</text><path d="M136.4,895 L151.4,887 L151.4,892 L186.7,892 L186.7,887 L201.7,895 L186.7,903 L186.7,898 L151.4,898 L151.4,903 Z" fill="#fff"/><circle cx="399.4" cy="742.7" r="6.5" fill="none" stroke="#fff" stroke-width="4.2"/><path d="M395.80,811.22 L401.58,824.40 L390.02,824.40 Z" fill="none" stroke="#fff" stroke-width="4.2" stroke-linejoin="miter" stroke-miterlimit="10"/><text x="359.7" y="907" font-size="24.5" font-weight="bold" fill="#ffff00">&#955;=1200 nm</text><text x="353" y="718" font-size="24.2" font-weight="bold" fill="#ffff00">RQWP</text><text x="313" y="818" font-size="24.2" font-weight="bold" fill="#ffff00">TQWP</text><path d="M664.9,848.7 L673.4,863.7 L667.9,863.7 L667.9,893.2 L673.4,893.2 L664.9,908.2 L656.4,893.2 L661.9,893.2 L661.9,863.7 L656.4,863.7 Z" fill="#fff"/><circle cx="919.4" cy="745.4" r="6.5" fill="none" stroke="#fff" stroke-width="4.2"/><path d="M915.90,813.12 L921.65,825.90 L910.15,825.90 Z" fill="none" stroke="#fff" stroke-width="4.2" stroke-linejoin="miter" stroke-miterlimit="10"/><text x="883.5" y="906.5" font-size="24.5" font-weight="bold" fill="#ffff00">&#955;=1200 nm</text><circle cx="1555.2" cy="265.3" r="6.2" fill="none" stroke="#000" stroke-width="3.8"/><path d="M1549.70,334.15 L1555.30,346.50 L1544.10,346.50 Z" fill="none" stroke="#000" stroke-width="4" stroke-linejoin="miter" stroke-miterlimit="10"/><text x="1287.6" y="419" font-size="24.5" font-weight="bold" fill="#000">&#955;=1200 nm</text><circle cx="1622.5" cy="755" r="6.5" fill="none" stroke="#fff" stroke-width="4.2"/><path d="M1619.40,866.76 L1625.17,879.70 L1613.63,879.70 Z" fill="none" stroke="#fff" stroke-width="4.2" stroke-linejoin="miter" stroke-miterlimit="10"/><text x="1520" y="567.3" font-size="24.5" font-weight="bold" fill="#fff">&#955;=1200 nm</text><path d="M1301,886.9 A28,28 0 1 1 1337.2,881" fill="none" stroke="#fff" stroke-width="4.6"/><path d="M1335.6,871.5 L1336.8,886.2 L1349.6,880.6" fill="none" stroke="#fff" stroke-width="4.6" stroke-linejoin="miter"/>
</svg>
</body></html>
